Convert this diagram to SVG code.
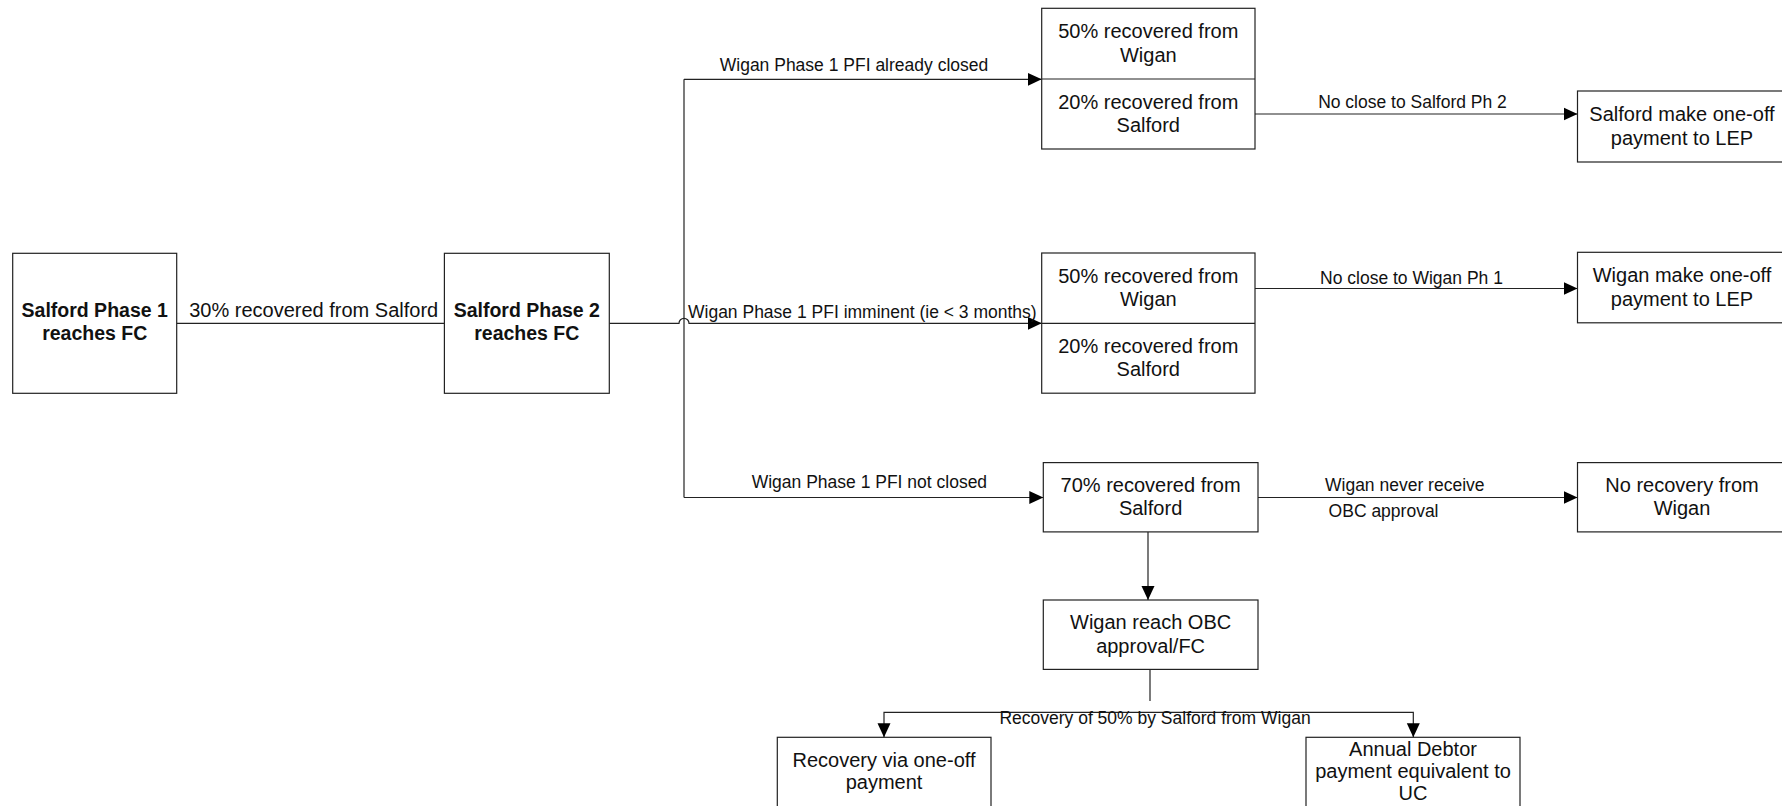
<svg xmlns="http://www.w3.org/2000/svg" width="1782" height="806" viewBox="0 0 1782 806">
<style>
.box{fill:#fff;stroke:#222;stroke-width:1.2}
.t{font-family:"Liberation Sans",Arial,sans-serif;font-size:20px;fill:#111;text-anchor:middle}
.b{font-weight:bold;font-size:19.5px}
.l{font-family:"Liberation Sans",Arial,sans-serif;font-size:17.5px;fill:#111}
.c{text-anchor:middle}
.ln{fill:none;stroke:#222;stroke-width:1.2}
.a{marker-end:url(#ah)}
</style>
<defs>
<marker id="ah" markerUnits="userSpaceOnUse" markerWidth="15" markerHeight="14" refX="14" refY="7" orient="auto">
<path d="M0,0.5 L14,7 L0,13.5 z" fill="#000"/>
</marker>
</defs>
<rect width="1782" height="806" fill="#fff"/>
<g id="connectors">
<path class="ln" d="M176.7,323.3 H444.4"/>
<path class="ln a" d="M609.3,323.3 H679 A5,5 0 0 1 689,323.3 H1041.7"/>
<path class="ln" d="M684,79.3 V497.5"/>
<path class="ln a" d="M684,79.3 H1041.7"/>
<path class="ln a" d="M684,497.5 H1043.3"/>
<path class="ln a" d="M1255,114 H1577.5"/>
<path class="ln a" d="M1255,288.5 H1577.5"/>
<path class="ln a" d="M1258,497.5 H1577.5"/>
<path class="ln a" d="M1148,532 V600"/>
<path class="ln" d="M1150,669.4 V701"/>
<path class="ln a" d="M1150,712.3 H884 V737.3"/>
<path class="ln a" d="M1150,712.3 H1413.3 V737.3"/>
<text class="l" x="313.7" y="316.5" text-anchor="middle" style="font-size:20px">30% recovered from Salford</text>
<text class="l c" x="854" y="70.5">Wigan Phase 1 PFI already closed</text>
<text class="l" x="688" y="318">Wigan Phase 1 PFI imminent (ie &lt; 3 months)</text>
<text class="l c" x="869.4" y="487.5">Wigan Phase 1 PFI not closed</text>
<text class="l c" x="1412.5" y="108">No close to Salford Ph 2</text>
<text class="l c" x="1411.5" y="283.5">No close to Wigan Ph 1</text>
<text class="l" x="1325" y="491">Wigan never receive</text>
<text class="l" x="1328.6" y="517">OBC approval</text>
<text class="l c" x="1155" y="724">Recovery of 50% by Salford from Wigan</text>
</g>
<g id="salford-phase-1">
<rect class="box" x="12.7" y="253.3" width="164" height="140"/>
<text class="t b" x="94.7" y="317.3">Salford Phase 1</text>
<text class="t b" x="94.7" y="340">reaches FC</text>
</g>
<g id="salford-phase-2">
<rect class="box" x="444.4" y="253.3" width="164.9" height="140"/>
<text class="t b" x="526.8" y="317.3">Salford Phase 2</text>
<text class="t b" x="526.8" y="340">reaches FC</text>
</g>
<g id="top-split">
<rect class="box" x="1041.7" y="8.3" width="213.3" height="140.7"/>
<path class="ln" d="M1041.7,79 H1255"/>
<text class="t" x="1148.3" y="38.3">50% recovered from</text>
<text class="t" x="1148.3" y="61.7">Wigan</text>
<text class="t" x="1148.3" y="108.5">20% recovered from</text>
<text class="t" x="1148.3" y="131.5">Salford</text>
</g>
<g id="middle-split">
<rect class="box" x="1041.7" y="253" width="213.3" height="140.2"/>
<path class="ln" d="M1041.7,323.3 H1255"/>
<text class="t" x="1148.3" y="282.7">50% recovered from</text>
<text class="t" x="1148.3" y="306">Wigan</text>
<text class="t" x="1148.3" y="352.7">20% recovered from</text>
<text class="t" x="1148.3" y="376">Salford</text>
</g>
<g id="salford-one-off">
<rect class="box" x="1577.5" y="91" width="210" height="71"/>
<text class="t" x="1682" y="121.2">Salford make one-off</text>
<text class="t" x="1682" y="144.5">payment to LEP</text>
</g>
<g id="wigan-one-off">
<rect class="box" x="1577.5" y="252.3" width="210" height="70.5"/>
<text class="t" x="1682" y="282.2">Wigan make one-off</text>
<text class="t" x="1682" y="305.5">payment to LEP</text>
</g>
<g id="seventy-salford">
<rect class="box" x="1043.3" y="462.6" width="214.7" height="69.3"/>
<text class="t" x="1150.6" y="492">70% recovered from</text>
<text class="t" x="1150.6" y="515.2">Salford</text>
</g>
<g id="no-recovery">
<rect class="box" x="1577.5" y="462.6" width="210" height="69.3"/>
<text class="t" x="1682" y="492">No recovery from</text>
<text class="t" x="1682" y="515.2">Wigan</text>
</g>
<g id="wigan-obc">
<rect class="box" x="1043.3" y="600" width="214.7" height="69.4"/>
<text class="t" x="1150.6" y="629.4">Wigan reach OBC</text>
<text class="t" x="1150.6" y="652.7">approval/FC</text>
</g>
<g id="recovery-one-off">
<rect class="box" x="777.3" y="737.3" width="213.7" height="75"/>
<text class="t" x="884" y="767.3">Recovery via one-off</text>
<text class="t" x="884" y="789.3">payment</text>
</g>
<g id="annual-debtor">
<rect class="box" x="1306" y="737.3" width="214" height="75"/>
<text class="t" x="1413" y="756">Annual Debtor</text>
<text class="t" x="1413" y="778.3">payment equivalent to</text>
<text class="t" x="1413" y="800">UC</text>
</g>
</svg>
